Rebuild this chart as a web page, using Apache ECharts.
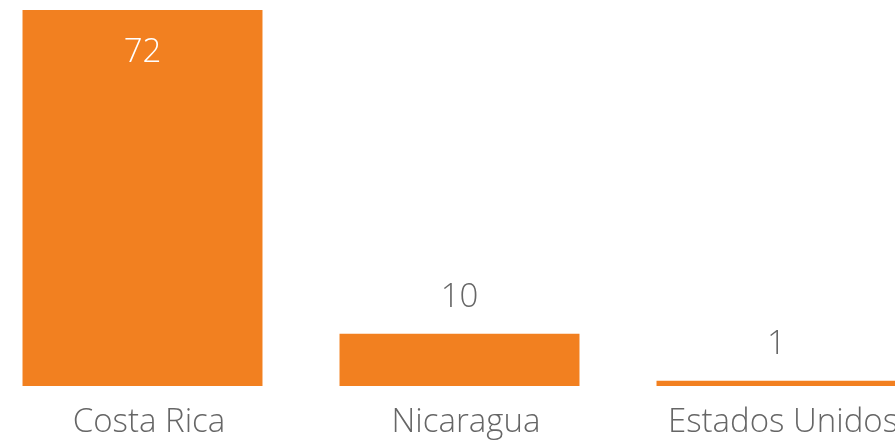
<!DOCTYPE html>
<html>
<head>
<meta charset="utf-8">
<script src="https://cdn.jsdelivr.net/npm/echarts@6/dist/echarts.min.js"></script>
<style>
  html, body { margin: 0; padding: 0; background: #fff; }
  #main { width: 895px; height: 443px; }
</style>
</head>
<body>
<div id="main"></div>
<script>
const categories = ['Costa Rica', 'Nicaragua', 'Estados Unidos'];
const values = [72, 10, 1];

const barColor = '#F28020';
const textGray = '#666666';
const fontFamily = '"Open Sans", "Noto Sans", sans-serif';
const maxVal = Math.max(...values);

const chart = echarts.init(document.getElementById('main'));
chart.setOption({
  animation: false,
  grid: {
    left: -16,
    width: 951,
    top: 10,
    bottom: 57,
    outerBoundsMode: 'none',
    containLabel: false
  },
  xAxis: {
    type: 'category',
    data: categories,
    axisLine: { show: false },
    axisTick: { show: false },
    axisLabel: {
      margin: 20,
      padding: [0, 0, 0, 13],
      fontSize: 33,
      fontWeight: 300,
      fontFamily: fontFamily,
      color: textGray
    }
  },
  yAxis: {
    type: 'value',
    min: 0,
    max: maxVal,
    show: false,
    splitLine: { show: false }
  },
  series: [{
    type: 'bar',
    barCategoryGap: '24.3%',
    itemStyle: { color: barColor },
    data: values.map(v => {
      const inside = v > maxVal * 0.5;
      return {
        value: v,
        label: {
          show: true,
          position: inside ? 'insideTop' : 'top',
          distance: inside ? 26 : 20,
          color: inside ? '#ffffff' : textGray,
          fontSize: 33,
          fontWeight: 300,
          fontFamily: fontFamily
        }
      };
    })
  }]
});
</script>
</body>
</html>
